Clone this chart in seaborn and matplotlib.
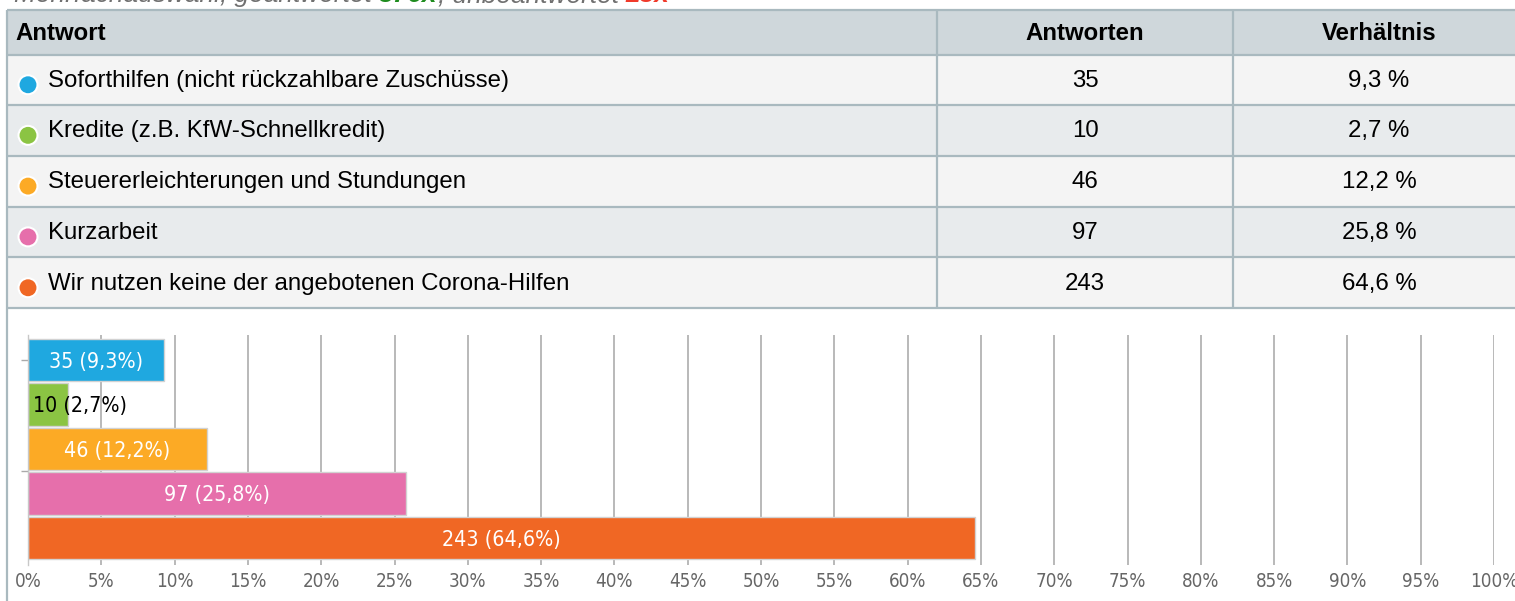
import numpy as np
import pandas as pd
import seaborn as sns
import matplotlib.pyplot as plt
from matplotlib import font_manager
from matplotlib.patches import Rectangle, Circle

#%% data

antworten = ['Soforthilfen (nicht rückzahlbare Zuschüsse)',
             'Kredite (z.B. KfW-Schnellkredit)',
             'Steuererleichterungen und Stundungen',
             'Kurzarbeit',
             'Wir nutzen keine der angebotenen Corona-Hilfen']
anzahl = [35, 10, 46, 97, 243]
anteil = [9.3, 2.7, 12.2, 25.8, 64.6]
farben = ['#1FA8E0', '#8BC443', '#FCAA25', '#E66FAB', '#F06724']
xticks = list(range(0, 101, 5))
geantwortet = 376
unbeantwortet = 23

df = pd.DataFrame({'Antwort': antworten, 'Antworten': anzahl, 'Verhältnis': anteil})

#%% style

sns.set_theme(style='white')
plt.rcParams['font.family'] = ['Liberation Sans', 'DejaVu Sans']

# condensed DejaVu for the chart part, if it is there
cond = any(f.name == 'DejaVu Sans' and 'condensed' in str(f.stretch)
           for f in font_manager.fontManager.ttflist)
fs_scale = 1.0 if cond else 0.9
chart_font = dict(family='DejaVu Sans', fontstretch='condensed')

W, H = 1515, 601
fig = plt.figure(figsize=(W / 100, H / 100), dpi=100)

# background axes in pixel coords for the table
bg = fig.add_axes([0, 0, 1, 1])
bg.set_xlim(0, W)
bg.set_ylim(H, 0)
bg.axis('off')

linecol = '#A9B9BF'
rows = [10, 54.5, 105, 155.7, 206.5, 257.3, 308.2]
col1, col2 = 937, 1233
c2, c3 = 1085, 1379
tfs = 17.3

# top line (cut off at the edge, like in the screenshot)
t1 = bg.text(14, 2, 'Mehrfachauswahl, geantwortet ', style='italic',
             color='#707070', fontsize=18.9, va='baseline')
t2 = bg.annotate(f'{geantwortet}x', xy=(1, 0), xycoords=t1, va='bottom',
                 ha='left', style='italic', weight='bold', color='#1E8C1E', fontsize=18.9)
t3 = bg.annotate(', unbeantwortet ', xy=(1, 0), xycoords=t2, va='bottom',
                 ha='left', style='italic', color='#707070', fontsize=18.9)
bg.annotate(f'{unbeantwortet}x', xy=(1, 0), xycoords=t3, va='bottom',
            ha='left', style='italic', weight='bold', color='#F03A2A', fontsize=18.9)

# header
bg.add_patch(Rectangle((7, rows[0]), W, rows[1] - rows[0], fc='#CFD7DB', ec='none'))
hy = (rows[0] + rows[1]) / 2 + 8
bg.text(15, hy, 'Antwort', weight='bold', fontsize=tfs, va='baseline', color='black')
bg.text(c2, hy, 'Antworten', weight='bold', fontsize=tfs, va='baseline', ha='center', color='black')
bg.text(c3, hy, 'Verhältnis', weight='bold', fontsize=tfs, va='baseline', ha='center', color='black')

# rows
for i, row in df.iterrows():
    top, bot = rows[i + 1], rows[i + 2]
    bg.add_patch(Rectangle((7, top), W, bot - top,
                           fc='#F4F4F4' if i % 2 == 0 else '#E8EBED', ec='none'))
    yc = (top + bot) / 2
    bg.add_patch(Circle((28, yc + 5), 9.5, fc=farben[i], ec='white', lw=1.5))
    bg.text(48, yc + 7, row['Antwort'], fontsize=tfs, va='baseline', color='black')
    bg.text(c2, yc + 7, str(row['Antworten']), fontsize=tfs, va='baseline', ha='center', color='black')
    bg.text(c3, yc + 7, f"{row['Verhältnis']:.1f} %".replace('.', ','), fontsize=tfs,
            va='baseline', ha='center', color='black')

# table lines
for y in rows:
    bg.plot([7, W], [y, y], color=linecol, lw=1.6, solid_capstyle='butt')
for x in (col1, col2):
    bg.plot([x, x], [rows[0], rows[-1]], color=linecol, lw=1.6, solid_capstyle='butt')
bg.plot([7, 7], [rows[0], H], color=linecol, lw=1.6, solid_capstyle='butt')

#%% bar chart

x0, x1 = 28, 1494
ytop, ybot = 335, 565
ax = fig.add_axes([x0 / W, 1 - ybot / H, (x1 - x0) / W, (ybot - ytop) / H])
ax.patch.set_alpha(0)

sns.barplot(data=df, x='Verhältnis', y='Antwort', hue='Antwort', palette=farben,
            legend=False, orient='h', width=0.96, saturation=1,
            edgecolor='#D2D2D2', linewidth=1, ax=ax)

ax.set_xlim(0, 100)
ax.set_ylim(4.61, -0.56)
ax.set_xticks(xticks)
ax.set_xticklabels([f'{t}%' for t in xticks], **chart_font)
ax.set_yticks([0, 2.5])
ax.set_yticklabels(['', ''])
ax.set_xlabel('')
ax.set_ylabel('')
ax.xaxis.grid(True, color='#B3B3B3', linewidth=1.3)
ax.set_axisbelow(True)
for s in ('top', 'right', 'bottom'):
    ax.spines[s].set_visible(False)
ax.spines['left'].set_color('#C8C8C8')
ax.spines['left'].set_linewidth(1)
ax.tick_params(axis='x', length=0, pad=5, labelsize=13.5 * fs_scale, labelcolor='#666666')
ax.tick_params(axis='y', length=5, width=1, color='#AAAAAA', left=True)

for i, (n, p) in enumerate(zip(anzahl, anteil)):
    lab = f'{n} ({p:.1f}%)'.replace('.', ',')
    if p < 7:
        ax.text(0.35, i + 0.04, lab, ha='left', va='center', color='black',
                fontsize=15.3 * fs_scale, **chart_font)
    else:
        ax.text(p / 2, i + 0.04, lab, ha='center', va='center', color='white',
                fontsize=15.3 * fs_scale, **chart_font)

fig.savefig('out.png', dpi=100)
